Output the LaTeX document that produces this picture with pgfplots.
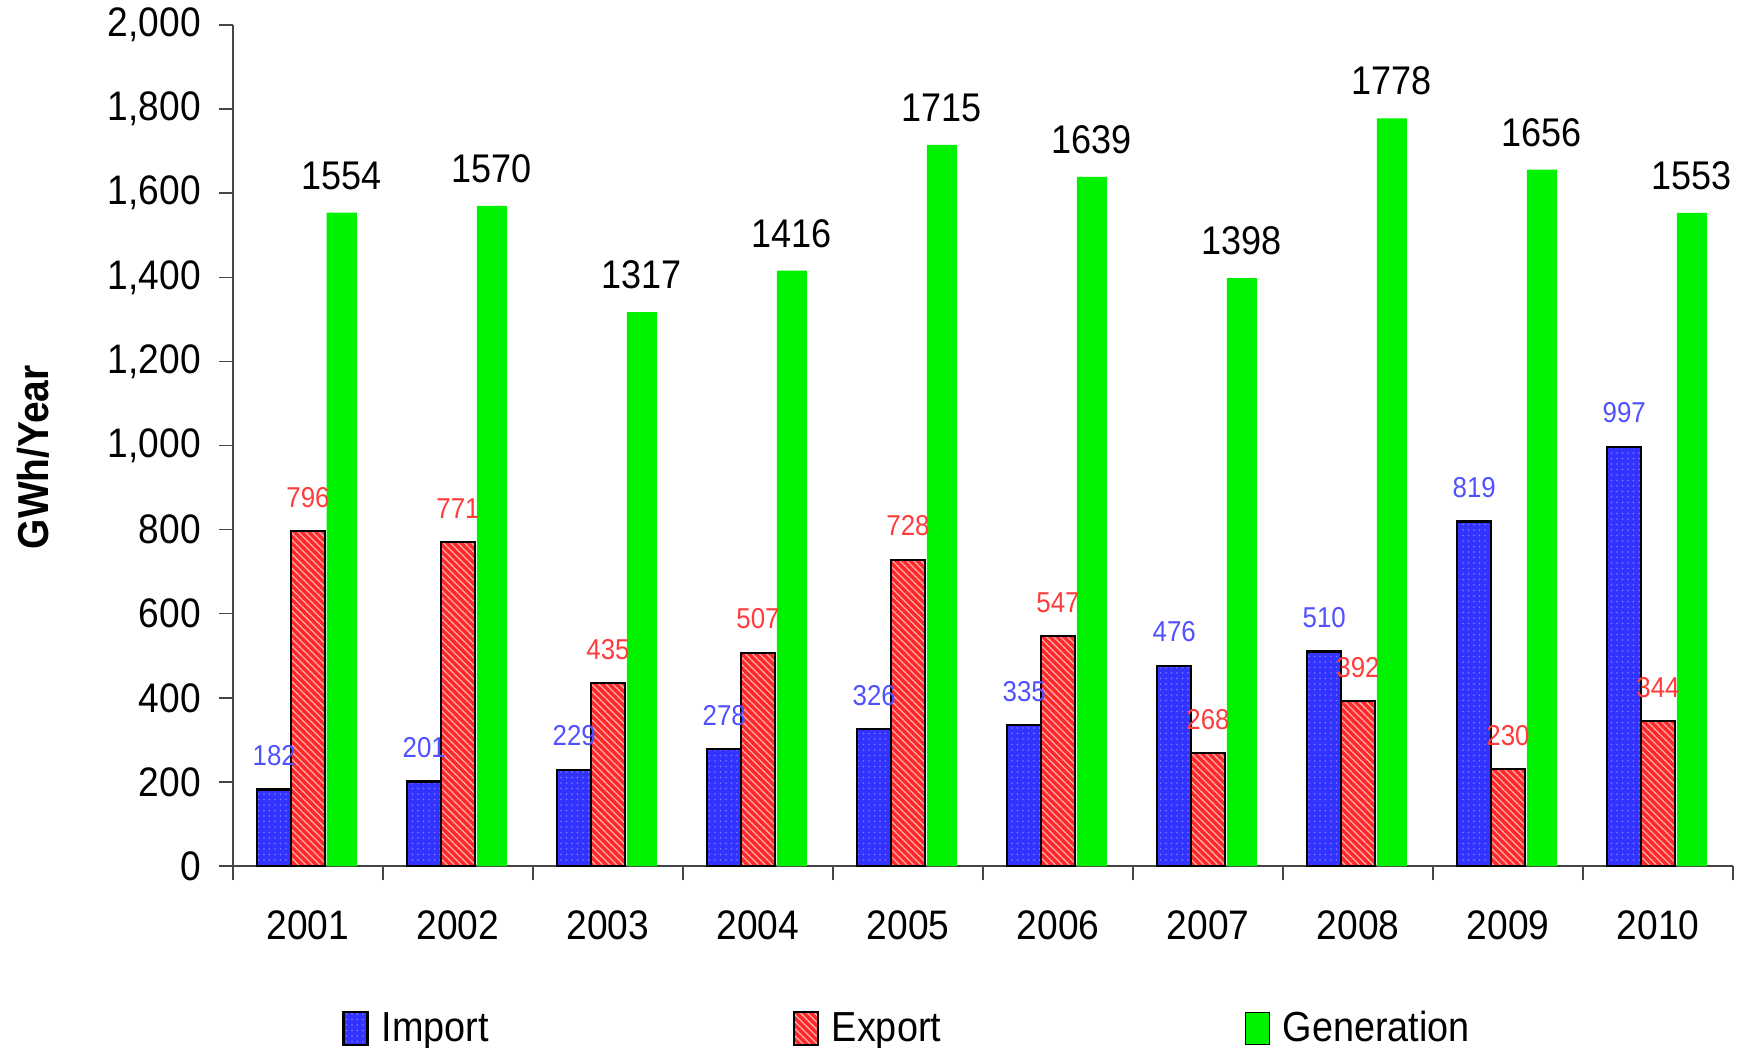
\documentclass[border=0pt]{standalone}
\usepackage{fontspec}
\setmainfont{Liberation Sans}[FakeStretch=0.9]
\usepackage{pgfplots}
\pgfplotsset{compat=1.18}
\usetikzlibrary{patterns.meta}
\definecolor{impblue}{RGB}{51,51,255}
\definecolor{impdot}{RGB}{125,125,255}
\definecolor{expred}{RGB}{255,40,40}
\definecolor{expline}{RGB}{255,175,175}
\definecolor{gengreen}{RGB}{0,242,0}
\definecolor{implabel}{RGB}{80,80,255}
\definecolor{explabel}{RGB}{255,60,60}
\definecolor{axisgray}{RGB}{70,70,70}
\begin{document}
\begin{tikzpicture}
\useasboundingbox (-93.2pt,-72.4pt) rectangle (602.8pt,346.4pt);
\begin{axis}[
  at={(0pt,0pt)}, anchor=south west,
  scale only axis, width=600pt, height=336.4pt,
  xmin=-0.5, xmax=9.5, ymin=0, ymax=2000,
  clip=false,
  axis x line*=bottom, axis y line*=left,
  axis line style={axisgray, line width=0.6pt},
  tick style={axisgray, line width=0.6pt},
  tick align=outside, major tick length=5.6pt,
  /pgf/number format/assume math mode=true,
  /pgf/number format/1000 sep={,},
  font=\fontsize{16.5}{19}\selectfont,
  ticklabel style={font=\fontsize{16.5}{19}\selectfont},
  xtick={-0.5,0.5,...,9.5}, xticklabels={},
  extra x ticks={0,1,2,3,4,5,6,7,8,9},
  extra x tick labels={2001,2002,2003,2004,2005,2006,2007,2008,2009,2010},
  extra x tick style={major tick length=0pt, xticklabel style={yshift=-14.3pt}},
  ytick={0,200,...,2000},
  yticklabel style={xshift=-3.8pt},
  ylabel={GWh/Year},
  ylabel style={at={(axis description cs:-0.1333,0.486)}, anchor=center, font=\bfseries\fontsize{17.3}{19}\selectfont},
  legend style={draw=none, at={(axis description cs:0,0)}, anchor=west, xshift=43.6pt, yshift=-65pt,
    inner sep=0pt, font=\fontsize{16.8}{19}\selectfont,
    /tikz/every odd column/.append style={column sep=3.2pt},
    /tikz/every even column/.append style={column sep=119.5pt}},
  legend columns=3,
  legend image code/.code={\draw[#1] (0pt,-6.5pt) rectangle (9.6pt,6.5pt);},
]
\addplot[ybar, bar width=13.6pt, bar shift=-13.5pt, fill=impblue, draw=black, line width=0.9pt,
  postaction={pattern={Dots[distance=2.2pt,radius=0.35pt]}, pattern color=impdot},
  nodes near coords={\pgfmathprintnumber[1000 sep={}]{\pgfplotspointmeta}},
  nodes near coords style={font=\fontsize{11.5}{13}\selectfont, text=implabel, anchor=south, inner sep=0pt, yshift=9pt, xshift=-13.5pt}]
  coordinates {(0,182) (1,201) (2,229) (3,278) (4,326) (5,335) (6,476) (7,510) (8,819) (9,997)};
\addlegendentry{Import}
\addplot[ybar, bar width=13.6pt, bar shift=0pt, fill=expred, draw=black, line width=0.9pt,
  postaction={pattern={Lines[angle=-45,distance=2pt,line width=0.5pt]}, pattern color=expline},
  nodes near coords={\pgfmathprintnumber[1000 sep={}]{\pgfplotspointmeta}},
  nodes near coords style={font=\fontsize{11.5}{13}\selectfont, text=explabel, anchor=south, inner sep=0pt, yshift=9pt}]
  coordinates {(0,796) (1,771) (2,435) (3,507) (4,728) (5,547) (6,268) (7,392) (8,230) (9,344)};
\addlegendentry{Export}
\addplot[ybar, bar width=12pt, bar shift=13.5pt, fill=gengreen, draw=none,
  nodes near coords={\pgfmathprintnumber[1000 sep={}]{\pgfplotspointmeta}},
  nodes near coords style={font=\fontsize{16}{19}\selectfont, text=black, anchor=south, inner sep=0pt, yshift=9pt, xshift=13.5pt}]
  coordinates {(0,1554) (1,1570) (2,1317) (3,1416) (4,1715) (5,1639) (6,1398) (7,1778) (8,1656) (9,1553)};
\addlegendentry{Generation}
\end{axis}
\end{tikzpicture}
\end{document}
